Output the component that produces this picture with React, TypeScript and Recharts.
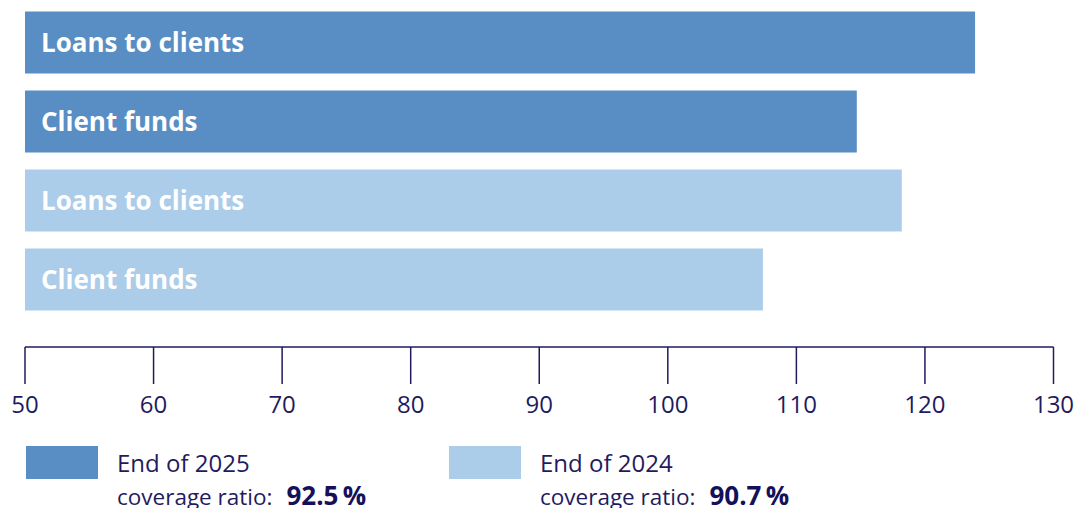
import React from 'react';
import { BarChart, Bar, XAxis, YAxis, Cell, LabelList } from 'recharts';

const categories = ['Loans to clients', 'Client funds', 'Loans to clients', 'Client funds'];
const years = ['2025', '2025', '2024', '2024'];
const values = [123.9, 114.7, 118.2, 107.4];
const xTicks = [50, 60, 70, 80, 90, 100, 110, 120, 130];
const legendYears = ['2025', '2024'];
const legendRatios = ['92.5\u2009%', '90.7\u2009%'];

const COLORS: Record<string, string> = { '2025': '#588ec4', '2024': '#accde9' };
const NAVY = '#1f1b5e';
const FONT = '"Open Sans", sans-serif';

const data = categories.map((name, i) => ({
  key: `${name}-${years[i]}`,
  name,
  year: years[i],
  value: values[i],
}));

export default function App() {
  return (
    <div style={{ position: 'absolute', left: 0, top: 0, width: 1075, height: 508, overflow: 'hidden', background: '#fff', fontFamily: FONT }}>
      <BarChart
        width={1075}
        height={440}
        data={data}
        layout="vertical"
        margin={{ top: 2.5, right: 21.5, left: 25, bottom: 33 }}
        barCategoryGap={17}
      >
        <XAxis
          type="number"
          domain={[50, 130]}
          ticks={xTicks}
          interval={0}
          allowDataOverflow
          height={60}
          tickSize={37}
          tickMargin={12}
          axisLine={{ stroke: NAVY, strokeWidth: 1.5 }}
          tickLine={{ stroke: NAVY, strokeWidth: 1.5 }}
          tick={{ fill: NAVY, fontSize: 24, fontFamily: FONT }}
        />
        <YAxis type="category" dataKey="key" hide padding={{ top: 0, bottom: 28.5 }} />
        <Bar dataKey="value" barSize={62} isAnimationActive={false}>
          {data.map((d) => (
            <Cell key={d.key} fill={COLORS[d.year]} />
          ))}
          <LabelList
            dataKey="name"
            position="insideLeft"
            offset={16}
            fill="#ffffff"
            style={{ fontSize: 26, fontWeight: 700, fontFamily: FONT }}
          />
        </Bar>
      </BarChart>
      {legendYears.map((y, i) => (
        <div key={y}>
          <div
            style={{
              position: 'absolute',
              left: i === 0 ? 26 : 449,
              top: 446,
              width: 72,
              height: 33,
              background: COLORS[y],
            }}
          />
          <div
            style={{
              position: 'absolute',
              left: i === 0 ? 117 : 540,
              top: 448,
              fontSize: 24,
              lineHeight: '30px',
              color: NAVY,
              whiteSpace: 'nowrap',
            }}
          >
            End of {y}
          </div>
          <div
            style={{
              position: 'absolute',
              left: i === 0 ? 117 : 540,
              top: 479.5,
              fontSize: 22.5,
              lineHeight: '30px',
              color: NAVY,
              whiteSpace: 'nowrap',
            }}
          >
            coverage ratio:
            <span style={{ fontWeight: 700, fontSize: 26, color: '#15105a', marginLeft: 14 }}>{legendRatios[i]}</span>
          </div>
        </div>
      ))}
    </div>
  );
}
